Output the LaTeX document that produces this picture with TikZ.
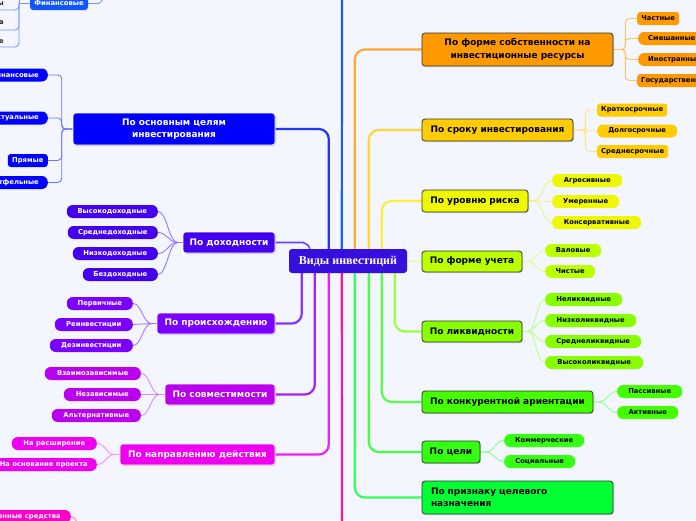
\documentclass[tikz,border=0pt]{standalone}
\usepackage{fontspec}
\setmainfont{DejaVu Sans}
\newfontfamily\serifbf{Liberation Serif}
\usetikzlibrary{calc,shadows}
\pgfdeclarelayer{bg}
\pgfsetlayers{bg,main}

\definecolor{bgc}{HTML}{F3F6FE}
\definecolor{cCenter}{HTML}{3510DD}
\definecolor{cA}{HTML}{0000FF}   \definecolor{lA}{HTML}{2233FF} \definecolor{tA}{HTML}{6677FF}
\definecolor{cF}{HTML}{1155FF}   \definecolor{lF}{HTML}{1A5CFF} \definecolor{tF}{HTML}{7799FF}
\definecolor{cD}{HTML}{4400EE}   \definecolor{lD}{HTML}{6644FF} \definecolor{tD}{HTML}{9977FF}
\definecolor{cP}{HTML}{7A00FF}   \definecolor{lP}{HTML}{8833FF} \definecolor{tP}{HTML}{AA77FF}
\definecolor{cS}{HTML}{BB00EE}   \definecolor{lS}{HTML}{AA22EE} \definecolor{tS}{HTML}{DD88FF}
\definecolor{cN}{HTML}{F000F0}   \definecolor{lN}{HTML}{EE22EE} \definecolor{tN}{HTML}{FF88FF}
\definecolor{cK}{HTML}{FF00CC}   \definecolor{lK}{HTML}{FF1493} \definecolor{tK}{HTML}{FF77DD}
\definecolor{cO}{HTML}{FF9900}   \definecolor{lO}{HTML}{FFA733} \definecolor{tO}{HTML}{FFC266}
\definecolor{cT}{HTML}{FFCC00}   \definecolor{lT}{HTML}{FFD633} \definecolor{tT}{HTML}{FFE380}
\definecolor{cR}{HTML}{EEF800}   \definecolor{lR}{HTML}{FFEE33} \definecolor{tR}{HTML}{F0F080}
\definecolor{cU}{HTML}{BBFF00}   \definecolor{lU}{HTML}{D8FF99} \definecolor{tU}{HTML}{DDFF88}
\definecolor{cL}{HTML}{88FF00}   \definecolor{lL}{HTML}{99FF44} \definecolor{tL}{HTML}{BBFF88}
\definecolor{cC}{HTML}{44FF00}   \definecolor{lC}{HTML}{55FF44} \definecolor{tC}{HTML}{99FF88}
\definecolor{cG}{HTML}{33FF11}   \definecolor{lG}{HTML}{44FF44} \definecolor{tG}{HTML}{88FF88}
\definecolor{cZ}{HTML}{00FF33}   \definecolor{lZ}{HTML}{33FF55}

\begin{document}
\begin{tikzpicture}[x=1pt,y=-1pt,
  main/.style={rounded corners=3pt, inner sep=0pt, font=\fontsize{9}{12.5}\selectfont\bfseries,
    drop shadow={shadow xshift=1pt,shadow yshift=-1pt,opacity=0.3}},
  mainL/.style={main, draw=white, line width=0.6pt, text=white, align=center},
  mainR/.style={main, draw=black!80, line width=0.8pt, text=black, align=center},
  leaf/.style={inner sep=0pt, font=\fontsize{6.8}{8}\selectfont\bfseries, rounded corners=6pt, minimum height=13pt},
  leafL/.style={leaf, text=white, anchor=east},
  leafR/.style={leaf, text=black, anchor=west},
  branch/.style={line width=2.2pt, rounded corners=10pt},
  twig/.style={line width=0.9pt},
  tiny/.style={inner sep=0pt, font=\fontsize{6.8}{8}\selectfont\bfseries, text=black!85, anchor=east},
]
\useasboundingbox (0,0) rectangle (696,520);

% ---------- center ----------
\node[rounded corners=3pt, fill=cCenter, text=white, minimum width=118pt, minimum height=24pt, inner sep=0pt,
      font=\serifbf\fontsize{12}{14}\selectfont\bfseries] (c) at (348,261) {Виды инвестиций};

% ---------- left main nodes ----------
\node[mainL, fill=cA, minimum width=202pt, minimum height=32pt] (ocel) at (174,129) {По основным целям\\инвестирования};
\node[mainL, fill=cD, minimum width=92pt, minimum height=21pt] (dox) at (229,242.5) {По доходности};
\node[mainL, fill=cP, minimum width=118pt, minimum height=21pt] (pro) at (216,323.5) {По происхождению};
\node[mainL, fill=cS, minimum width=110pt, minimum height=21pt] (sov) at (220,394.5) {По совместимости};
\node[mainL, fill=cN, minimum width=155pt, minimum height=21pt] (nap) at (197.5,454.5) {По направлению действия};

% ---------- right main nodes ----------
\node[mainR, fill=cO, minimum width=191pt, minimum height=33pt] (sob) at (517.5,49.5) {По форме собственности на\\инвестиционные ресурсы};
\node[mainR, fill=cT, minimum width=151pt, minimum height=22pt] (srok) at (497.5,130) {По сроку инвестирования};
\node[mainR, fill=cR, minimum width=106pt, minimum height=22pt] (risk) at (475,201) {По уровню риска};
\node[mainR, fill=cU, minimum width=100pt, minimum height=21pt] (uch) at (472,261.5) {По форме учета};
\node[mainR, fill=cL, minimum width=100pt, minimum height=21pt] (likv) at (472,331.5) {По ликвидности};
\node[mainR, fill=cC, minimum width=171pt, minimum height=22pt] (konk) at (507.5,402) {По конкурентной ариентации};
\node[mainR, fill=cG, minimum width=58pt, minimum height=22pt] (cel) at (451,452) {По цели};
\node[mainR, fill=cZ, minimum width=191pt, minimum height=33pt, text width=173pt, align=left] (prz) at (517.5,497.5) {По признаку целевого\\назначения};

% ---------- top-left fragment ----------
\node[leaf, fill=cF, text=white, rounded corners=3pt, minimum width=58pt] (fin) at (59,3.5) {Финансовые};
\node[tiny] (f1) at (4,4) {ы};
\node[tiny] (f2) at (4,23) {а};
\node[tiny] (f3) at (4,42) {е};
\coordinate (fb) at (19,3.5);
\coordinate (ftop) at (19,-8);
\coordinate (u1) at (-5,10);
\coordinate (u2) at (-5,30);
\coordinate (u3) at (-5,47);
\coordinate (finpar) at (104,-10);

% ---------- left leaves ----------
\node[leafL, fill=cA, inner xsep=9pt] (a1) at (48,75) {Финансовые};
\node[leafL, fill=cA, inner xsep=9pt] (a2) at (48,118) {Интеллектуальные};
\node[leafL, fill=cA, minimum width=40pt, rounded corners=3pt] (a3) at (48,160.5) {Прямые};
\node[leafL, fill=cA, inner xsep=9pt] (a4) at (48,182.5) {Портфельные};

\node[leafL, fill=cD, minimum width=91pt] (d1) at (158,211.5) {Высокодоходные};
\node[leafL, fill=cD, minimum width=90pt] (d2) at (158,232.5) {Среднедоходные};
\node[leafL, fill=cD, minimum width=85pt] (d3) at (158,253.5) {Низкодоходные};
\node[leafL, fill=cD, minimum width=75pt] (d4) at (158,274.5) {Бездоходные};

\node[leafL, fill=cP, minimum width=66pt] (p1) at (133,303.5) {Первичные};
\node[leafL, fill=cP, minimum width=78pt] (p2) at (133,324.5) {Реинвестиции};
\node[leafL, fill=cP, minimum width=83pt] (p3) at (133,345.5) {Дезинвестиции};

\node[leafL, fill=cS, minimum width=96pt] (s1) at (141,373.5) {Взаимозависимые};
\node[leafL, fill=cS, minimum width=77pt] (s2) at (141,394.5) {Независимые};
\node[leafL, fill=cS, minimum width=89pt] (s3) at (141,415.5) {Альтернативные};

\node[leafL, fill=cN, minimum width=85pt] (n1) at (97,443.5) {На расширение};
\node[leafL, fill=cN, inner xsep=9pt] (n2) at (97,464.5) {На основание проекта};

\node[leafL, fill=cK, inner xsep=10pt] (k1) at (71,516.5) {Собственные средства};
\coordinate (kpar) at (80,528);

% ---------- right leaves ----------
\node[leafR, fill=cO, minimum width=42pt, rounded corners=3pt] (o1) at (637,18.5) {Частные};
\node[leafR, fill=cO, inner xsep=10pt] (o2) at (638,38.5) {Смешанные};
\node[leafR, fill=cO, inner xsep=10pt] (o3) at (638,59.5) {Иностранные};
\node[leafR, fill=cO, inner xsep=4pt, rounded corners=3pt] (o4) at (637,80.5) {Государственные};

\node[leafR, fill=cT, minimum width=70pt, rounded corners=3pt] (t1) at (597,110) {Краткосрочные};
\node[leafR, fill=cT, minimum width=80pt] (t2) at (597,131) {Долгосрочные};
\node[leafR, fill=cT, minimum width=71pt, rounded corners=3pt] (t3) at (597,151.5) {Среднесрочные};

\node[leafR, fill=cR, minimum width=70pt] (r1) at (552,180.5) {Агресивные};
\node[leafR, fill=cR, minimum width=67pt] (r2) at (552,201.5) {Умеренные};
\node[leafR, fill=cR, minimum width=89pt] (r3) at (552,222.5) {Консервативные};

\node[leafR, fill=cU, minimum width=56pt] (v1) at (545,250.5) {Валовые};
\node[leafR, fill=cU, minimum width=50pt] (v2) at (545,271.5) {Чистые};

\node[leafR, fill=cL, minimum width=77pt] (l1) at (545,299.5) {Неликвидные};
\node[leafR, fill=cL, minimum width=91pt] (l2) at (545,320.5) {Низколиквидные};
\node[leafR, fill=cL, minimum width=96pt] (l3) at (545,341.5) {Среднеликвидные};
\node[leafR, fill=cL, minimum width=98pt] (l4) at (545,362.5) {Высоколиквидные};

\node[leafR, fill=cC, minimum width=65pt] (k2) at (617,391.5) {Пассивные};
\node[leafR, fill=cC, minimum width=61pt] (k3) at (617,412.5) {Активные};

\node[leafR, fill=cG, minimum width=80pt] (g1) at (504,440.5) {Коммерческие};
\node[leafR, fill=cG, minimum width=71pt] (g2) at (504,461.5) {Социальные};

\coordinate (topend) at (342,-10);
\coordinate (botend) at (342,530);

% ---------- connectors ----------
\begin{pgfonlayer}{bg}
\fill[bgc] (0,0) rectangle (696,520);

% main branches, left
\draw[branch, lA] (ocel.east) -| ($(c.north west)+(40,0)$);
\draw[branch, lD, line width=1.6pt] (dox.east) -- ++(18,0) .. controls +(8,0) and +(0,-5) .. ($(c.north west)+(21,0)$);
\draw[branch, lP] (pro.east) -| ($(c.south west)+(13,0)$);
\draw[branch, lS] (sov.east) -| ($(c.south west)+(26,0)$);
\draw[branch, lN] (nap.east) -| ($(c.south west)+(40,0)$);
\draw[branch, lF] ($(c.north west)+(53,0)$) -- (topend);
\draw[branch, lK] ($(c.south west)+(53,0)$) -- (botend);

% main branches, right
\draw[branch, lO] ($(c.north west)+(66,0)$) |- (sob.west);
\draw[branch, lT] ($(c.north west)+(80,0)$) |- (srok.west);
\draw[branch, lR] ($(c.north west)+(93,0)$) |- (risk.west);
\draw[lU, line width=1.2pt] (c.east) -- (uch.west);
\draw[branch, lL] ($(c.south west)+(106,0)$) |- (likv.west);
\draw[branch, lC] ($(c.south west)+(93,0)$) |- (konk.west);
\draw[branch, lG] ($(c.south west)+(80,0)$) |- (cel.west);
\draw[branch, lZ] ($(c.south west)+(66,0)$) |- (prz.west);

% top-left fragment
\draw[twig, tF] (fin.east) -- ++(10,0) .. controls +(4,0) and +(0,6) .. (finpar);
\draw[twig, tF] (fin.west) -- (fb);
\draw[twig, tF] (fb) -- (ftop);
\draw[twig, tF, rounded corners=4pt] (fb) |- (u1);
\draw[twig, tF, rounded corners=4pt] (fb) |- (u2);
\draw[twig, tF, rounded corners=4pt] (fb) |- (u3);

% brackets
\foreach \n in {a1,a2,a3,a4}
  \draw[twig, tA, rounded corners=4pt] (ocel.west) -- ++(-11,0) |- (\n.east);
\foreach \n in {o1,o2,o3,o4}
  \draw[twig, tO, rounded corners=4pt] (sob.east) -- ++(12,0) |- (\n.west);
\foreach \n in {t1,t2,t3}
  \draw[twig, tT, rounded corners=4pt] (srok.east) -- ++(12,0) |- (\n.west);

% fans, left
\foreach \n in {d1,d2,d3,d4}
  \draw[twig, tD] (dox.west) -- ++(-5,0) .. controls +(-9,0) and +(9,0) .. (\n.east);
\foreach \n in {p1,p2,p3}
  \draw[twig, tP] (pro.west) -- ++(-5,0) .. controls +(-9,0) and +(9,0) .. (\n.east);
\foreach \n in {s1,s2,s3}
  \draw[twig, tS] (sov.west) -- ++(-5,0) .. controls +(-9,0) and +(9,0) .. (\n.east);
\foreach \n in {n1,n2}
  \draw[twig, tN] (nap.west) -- ++(-5,0) .. controls +(-9,0) and +(9,0) .. (\n.east);
\draw[twig, tK] (k1.east) .. controls +(5,0) and +(-3,-4) .. (kpar);

% fans, right
\foreach \n in {r1,r2,r3}
  \draw[twig, tR] (risk.east) -- ++(5,0) .. controls +(9,0) and +(-9,0) .. (\n.west);
\foreach \n in {v1,v2}
  \draw[twig, tU] (uch.east) -- ++(5,0) .. controls +(9,0) and +(-9,0) .. (\n.west);
\foreach \n in {l1,l2,l3,l4}
  \draw[twig, tL] (likv.east) -- ++(5,0) .. controls +(9,0) and +(-9,0) .. (\n.west);
\foreach \n in {k2,k3}
  \draw[twig, tC] (konk.east) -- ++(5,0) .. controls +(9,0) and +(-9,0) .. (\n.west);
\foreach \n in {g1,g2}
  \draw[twig, tG] (cel.east) -- ++(5,0) .. controls +(9,0) and +(-9,0) .. (\n.west);
\end{pgfonlayer}
\end{tikzpicture}
\end{document}
